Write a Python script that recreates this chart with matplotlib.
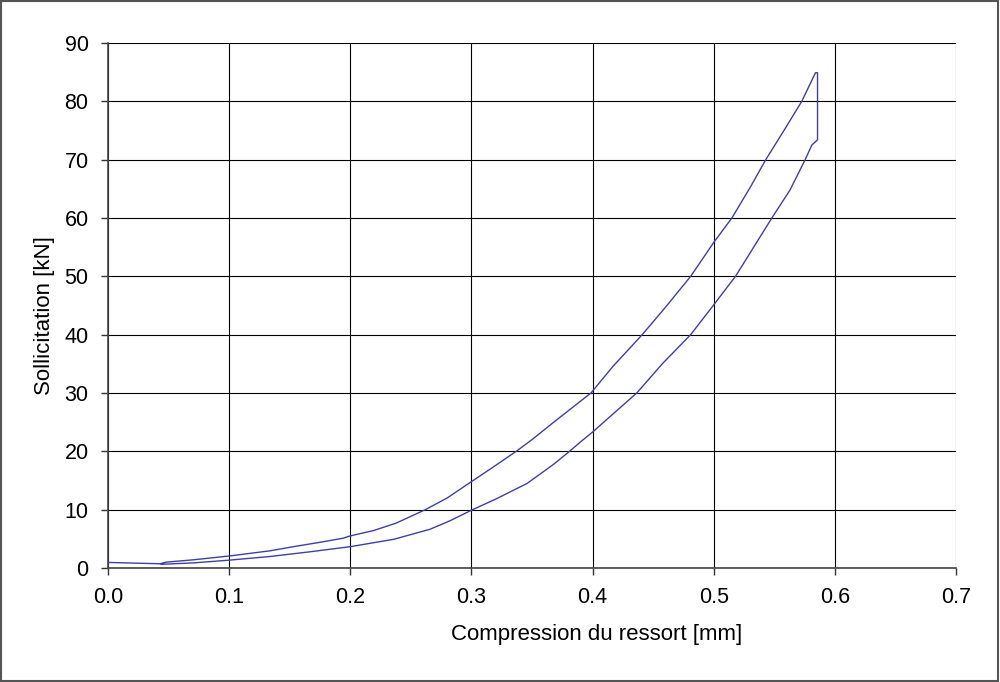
import matplotlib
matplotlib.use("Agg")
import matplotlib.pyplot as plt
from matplotlib.patches import Rectangle

# load branch (upper curve)
load_x = [0.000, 0.043, 0.048, 0.0705, 0.100, 0.134, 0.153, 0.175, 0.194, 0.200,
          0.219, 0.238, 0.262, 0.280, 0.300, 0.318, 0.337, 0.350, 0.368, 0.3987,
          0.417, 0.441, 0.461, 0.481, 0.500, 0.515, 0.530, 0.543, 0.558, 0.5727,
          0.584, 0.5857, 0.5857]
load_y = [0.95, 0.72, 1.0, 1.4, 2.05, 2.95, 3.65, 4.4, 5.1, 5.5,
          6.4, 7.7, 10.0, 12.0, 14.8, 17.3, 20.0, 22.0, 25.0, 30.0,
          34.6, 40.0, 44.9, 50.0, 55.8, 60.0, 65.2, 70.0, 75.0, 80.0,
          84.9, 84.9, 73.4]

# unload branch (lower curve)
unload_x = [0.581, 0.5755, 0.563, 0.548, 0.533, 0.518, 0.500, 0.481, 0.458, 0.4365,
            0.400, 0.390, 0.381, 0.368, 0.346, 0.321, 0.300, 0.283, 0.266, 0.236,
            0.200, 0.167, 0.134, 0.100, 0.0705, 0.044]
unload_y = [72.5, 70.0, 64.8, 60.0, 55.0, 50.0, 45.1, 40.0, 35.1, 30.0,
            23.3, 21.6, 20.0, 17.8, 14.5, 11.9, 9.9, 8.16, 6.65, 4.92,
            3.65, 2.78, 1.97, 1.34, 0.87, 0.63]

xticks = [0.0, 0.1, 0.2, 0.3, 0.4, 0.5, 0.6, 0.7]
yticks = [0, 10, 20, 30, 40, 50, 60, 70, 80, 90]

plt.rcParams['font.family'] = ['Liberation Sans', 'DejaVu Sans']

fig = plt.figure(figsize=(10, 6.82), dpi=100)
ax = fig.add_axes([0.108, 0.1672, 0.848, 0.7698])

ax.plot(load_x + unload_x, load_y + unload_y, color="#3f3fa3", lw=1.0)

ax.set_xlim(0, 0.7)
ax.set_ylim(0, 90)
ax.set_xticks(xticks)
ax.set_yticks(yticks)
ax.set_xticklabels(["%.1f" % t for t in xticks])
ax.set_yticklabels([str(t) for t in yticks])
ax.tick_params(labelsize=15.5, length=5, width=1, color="#333333", pad=9, direction="out")
ax.grid(True, color="black", lw=0.8)
ax.set_axisbelow(True)
for s in ["top", "right"]:
    ax.spines[s].set_visible(False)
for s in ["left", "bottom"]:
    ax.spines[s].set_color("#444444")
    ax.spines[s].set_linewidth(1.2)

fig.text(0.597, 0.069, "Compression du ressort [mm]", fontsize=16, ha="center", va="center")
fig.text(0.045, 0.537, "Sollicitation [kN]", fontsize=16, ha="center", va="center", rotation=90)

fig.patches.append(Rectangle((0.001, 0.002), 0.997, 0.996, transform=fig.transFigure,
                             fill=False, edgecolor="#555555", lw=1.5))

fig.savefig("out.png", dpi=100)
